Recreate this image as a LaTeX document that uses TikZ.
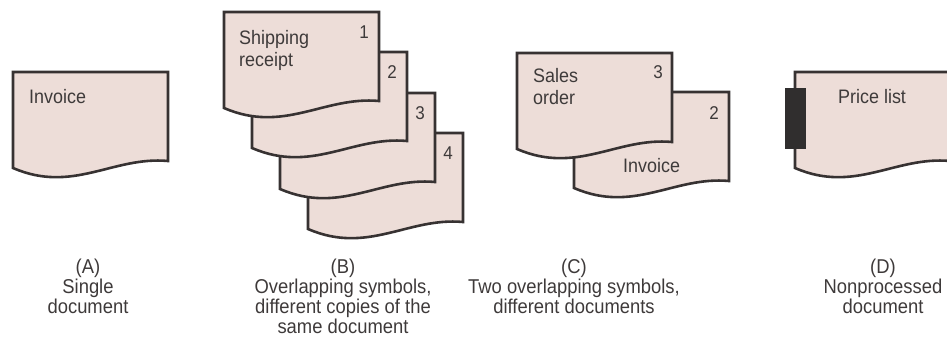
\documentclass[tikz,border=0pt]{standalone}
\usepackage{fontspec}
\setmainfont{Liberation Sans}[FakeStretch=0.92]
\definecolor{docfill}{RGB}{237,221,216}
\definecolor{docline}{RGB}{55,50,50}
\definecolor{inktext}{RGB}{62,58,58}
\definecolor{tabdark}{RGB}{48,46,46}

% one document symbol, top-left corner at (#1,#2), y growing downward
\newcommand\docsymbol[2]{%
  \path[docshape] (#1,#2) -- (#1+155,#2) -- (#1+155,#2+89)
    .. controls (#1+100,#2+84) and (#1+60,#2+122) .. (#1,#2+96) -- cycle;}

\tikzset{
  docshape/.style={draw=docline, fill=docfill, line width=2.6pt, line join=miter},
  doctext/.style={font=\fontsize{19.5}{22}\selectfont, text=inktext, inner sep=0pt, anchor=base west},
  copyno/.style={font=\fontsize{18.5}{20}\selectfont, text=inktext, inner sep=0pt},
  % captions are placed by the baseline of their last line
  caption/.style={font=\fontsize{20}{20}\selectfont, text=inktext, inner sep=0pt, align=center, anchor=base},
}

\begin{document}
\begin{tikzpicture}[x=1pt, y=-1pt]
  \useasboundingbox (0,0) rectangle (947,342);
  \clip (0,0) rectangle (947,342);

  % (A) single document
  \docsymbol{13}{72}
  \node[doctext] (a-title) at (29,103) {Invoice};

  % (B) four copies of one document, drawn back to front
  \docsymbol{308}{133}
  \node[copyno] (b-no4) at (448,153) {4};
  \docsymbol{280}{93}
  \node[copyno] (b-no3) at (420,113) {3};
  \docsymbol{252}{52}
  \node[copyno] (b-no2) at (392,72) {2};
  \docsymbol{224}{12}
  \node[copyno] (b-no1) at (364,32) {1};
  \node[doctext] (b-title1) at (239,45) {Shipping};
  \node[doctext] (b-title2) at (239,67) {receipt};

  % (C) two different documents
  \docsymbol{574}{92}
  \node[copyno] (c-no2) at (714,113) {2};
  \node[doctext] (c-inv) at (623,172) {Invoice};
  \docsymbol{517}{53}
  \node[copyno] (c-no3) at (658,72) {3};
  \node[doctext] (c-sales1) at (533,83) {Sales};
  \node[doctext] (c-sales2) at (533,105) {order};

  % (D) nonprocessed document with its dark tab
  \docsymbol{795}{72}
  \node[doctext] (d-title) at (838,103) {Price list};
  \path[fill=tabdark] (785,88) rectangle (806,149);

  % captions
  \node[caption] (cap-a) at (88,313) {(A)\\Single\\document};
  \node[caption] (cap-b) at (343,333) {(B)\\Overlapping symbols,\\different copies of the\\same document};
  \node[caption] (cap-c) at (574,313) {(C)\\Two overlapping symbols,\\different documents};
  \node[caption] (cap-d) at (883,313) {(D)\\Nonprocessed\\document};
\end{tikzpicture}
\end{document}
